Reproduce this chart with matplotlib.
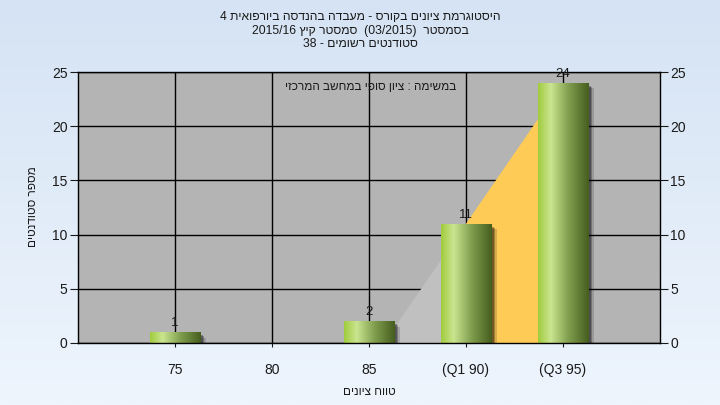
import numpy as np
import matplotlib
matplotlib.use('Agg')
import matplotlib.pyplot as plt
import matplotlib.patheffects as pe

plt.rcParams['font.family'] = ['Liberation Sans', 'DejaVu Sans']


def rtl(s):
    # matplotlib has no bidi, so hebrew runs are given in visual order
    return s[::-1]


categories = ['75', '80', '85', '(Q1 90)', '(Q3 95)']
counts = [1, 0, 2, 11, 24]
q1_idx = 3
q3_idx = 4

title_1 = '4 ' + rtl('היסטוגרמת ציונים בקורס - מעבדה בהנדסה ביורפואית')
title_2 = '2015/16 ' + rtl('סמסטר קיץ') + '  (03/2015)  ' + rtl('בסמסטר')
title_3 = '38 - ' + rtl('סטודנטים רשומים')
note = rtl('במשימה : ציון סופי במחשב המרכזי')
xlabel = rtl('טווח ציונים')
ylabel = rtl('מספר סטודנטים')

fig = plt.figure(figsize=(7.2, 4.05), dpi=100)

# background gradient
bg = fig.add_axes([0, 0, 1, 1], zorder=-10)
top_c = np.array([213, 227, 244]) / 255
bot_c = np.array([238, 245, 253]) / 255
t = np.linspace(0, 1, 256)[:, None]
grad = top_c[None, :] * (1 - t) + bot_c[None, :] * t
bg.imshow(grad[:, None, :], aspect='auto', extent=[0, 1, 0, 1])
bg.axis('off')

ax = fig.add_axes([0.1083, 0.1531, 0.8083, 0.6691])
ax.set_facecolor('#b4b4b4')
x = np.arange(len(categories))

ax.set_axisbelow(True)
ax.grid(True, color='black', linewidth=1.0)

# quartile shading: line through Q1 and Q3 bar tops
slope = (counts[q3_idx] - counts[q1_idx]) / (q3_idx - q1_idx)
x0 = q1_idx - counts[q1_idx] / slope
ax.fill([x0, q1_idx, q1_idx], [0, counts[q1_idx], 0], color='#c0c0c0', zorder=1, lw=0)
ax.fill([q1_idx, q3_idx, q3_idx, q1_idx], [counts[q1_idx], counts[q3_idx], 0, 0],
        color='#fecb57', zorder=1, lw=0)

# bars with a cylinder-like gradient and soft shadow
width = 0.52
stops = [0, 0.25, 0.6, 1]
cols = np.array([[160, 204, 62], [202, 229, 144], [128, 158, 78], [70, 94, 30]]) / 255
u = np.linspace(0, 1, 200)
bar_grad = np.stack([np.interp(u, stops, cols[:, k]) for k in range(3)], axis=-1)[None, :, :]

bars = ax.bar(x, counts, width=width, color='#8fb050', zorder=2,
              path_effects=[pe.SimplePatchShadow(offset=(4, -4), shadow_rgbFace='black', alpha=0.15),
                            pe.SimplePatchShadow(offset=(3, -3), shadow_rgbFace='black', alpha=0.25),
                            pe.SimplePatchShadow(offset=(2, -2), shadow_rgbFace='black', alpha=0.3),
                            pe.Normal()])
for b, xi, c in zip(bars, x, counts):
    if c == 0:
        continue
    im = ax.imshow(bar_grad, aspect='auto', zorder=2.5,
                   extent=[xi - width / 2, xi + width / 2, 0, c])
    im.set_clip_path(b)
    ax.annotate(str(c), (xi, c), xytext=(0, 6.5), textcoords='offset points',
                ha='center', va='center', fontsize=9.5, color='#1a1a1a', zorder=4)

ax.set_xlim(-1, 5)
ax.set_ylim(0, 25)
ax.set_xticks(x)
ax.set_xticklabels(categories)
ax.set_yticks(range(0, 26, 5))
ax.tick_params(axis='x', length=3, pad=11.5, labelsize=10, colors='#1a1a1a')
ax.tick_params(axis='y', length=6, pad=1.5, labelsize=10, colors='#1a1a1a',
               right=True, labelright=True)
for s in ax.spines.values():
    s.set_color('black')
    s.set_linewidth(1.0)

ax.text(0.502, 0.944, note, transform=ax.transAxes, ha='center', va='center',
        fontsize=8.5, color='#1a1a1a', zorder=4)

fig.text(0.5, 1 - 17 / 405, title_1, ha='center', va='center', fontsize=8.7, color='#1a1a1a')
fig.text(0.5, 1 - 31 / 405, title_2, ha='center', va='center', fontsize=8.7, color='#1a1a1a')
fig.text(0.5, 1 - 44 / 405, title_3, ha='center', va='center', fontsize=8.7, color='#1a1a1a')
fig.text(369 / 720, 1 - 392 / 405, xlabel, ha='center', va='center', fontsize=8.5, color='#1a1a1a')
fig.text(33 / 720, 1 - 207 / 405, ylabel, ha='center', va='center', rotation=90,
         fontsize=8.5, color='#1a1a1a')

fig.savefig('out.png', dpi=100)
